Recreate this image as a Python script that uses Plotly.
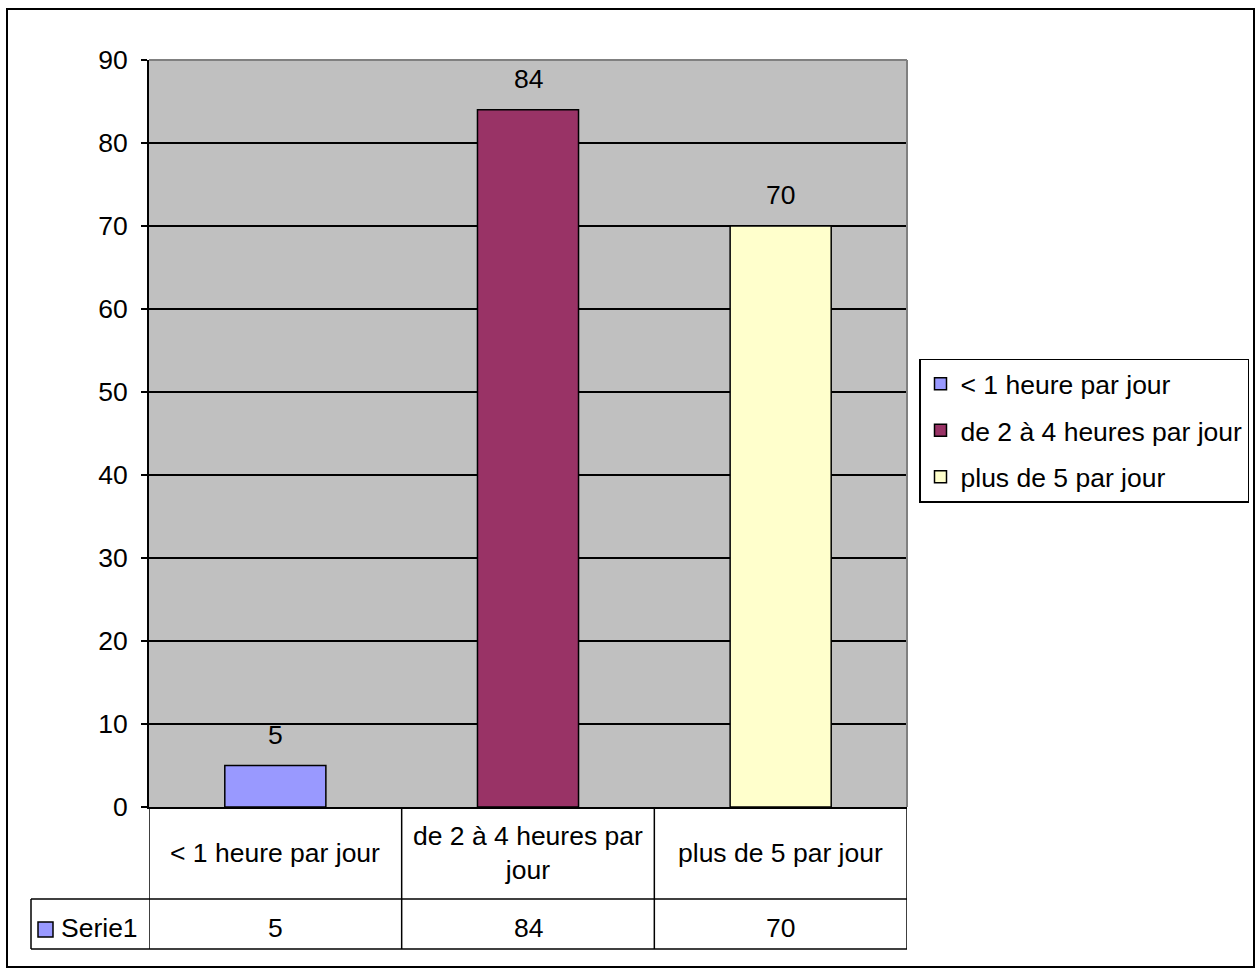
import plotly.graph_objects as go

categories = ["< 1 heure par jour", "de 2 à 4 heures par jour", "plus de 5 par jour"]
table_labels = ["< 1 heure par jour", "de 2 à 4 heures par<br>jour", "plus de 5 par jour"]
values = [5, 84, 70]
colors = ["#9999FF", "#993366", "#FFFFCC"]
series_name = "Serie1"
y_ticks = [0, 10, 20, 30, 40, 50, 60, 70, 80, 90]

FONT = "Liberation Sans, Arial, sans-serif"
FS = 26.5
W, H = 1258, 969
L, R, T, B = 149, 351, 60, 162
PW = W - L - R
PH = H - T - B


def px_x(p):
    return (p - L) / PW


def px_y(p):
    return (H - B - p) / PH


fig = go.Figure()
for i, (c, v, col) in enumerate(zip(categories, values, colors)):
    fig.add_trace(go.Bar(
        x=[i], y=[v], name=c, width=0.4,
        marker=dict(color=col, line=dict(color="black", width=1.5)),
        legendgroup=f"g{i}", hoverinfo="skip",
    ))

annotations = []
shapes = []
# value labels above bars
for i, v in enumerate(values):
    annotations.append(dict(x=i, y=v, xref="x", yref="y", text=str(v), showarrow=False,
                            yanchor="bottom", yshift=14, font=dict(size=FS, color="black", family=FONT)))

# data table
row1_top, row1_bot, row2_bot = 807, 899, 949
row2_mid = (row1_bot + row2_bot) / 2 + 4
for i, lab in enumerate(table_labels):
    annotations.append(dict(x=i, y=px_y((row1_top + row1_bot) / 2), xref="x", yref="paper", text=lab,
                            showarrow=False, yanchor="middle", xanchor="center",
                            font=dict(size=FS, color="black", family=FONT)))
    annotations.append(dict(x=i, y=px_y(row2_mid), xref="x", yref="paper", text=str(values[i]),
                            showarrow=False, yanchor="middle", xanchor="center",
                            font=dict(size=FS, color="black", family=FONT)))
annotations.append(dict(x=px_x(59), y=px_y(row2_mid), xref="paper", yref="paper", text=series_name,
                        showarrow=False, yanchor="middle", xanchor="left",
                        font=dict(size=FS, color="black", family=FONT)))

line = dict(color="black", width=1.5)
for xb in [-0.5, 0.5, 1.5, 2.5]:
    shapes.append(dict(type="line", xref="x", yref="paper", x0=xb, x1=xb,
                       y0=px_y(row1_top), y1=px_y(row2_bot), line=line))
for yy in [row1_bot, row2_bot]:
    shapes.append(dict(type="line", xref="paper", yref="paper", x0=px_x(31), x1=1,
                       y0=px_y(yy), y1=px_y(yy), line=line))
shapes.append(dict(type="line", xref="paper", yref="paper", x0=px_x(31), x1=px_x(31),
                   y0=px_y(row1_bot), y1=px_y(row2_bot), line=line))
# series swatch in table
shapes.append(dict(type="rect", xref="paper", yref="paper", x0=px_x(38), x1=px_x(53),
                   y0=px_y(937), y1=px_y(922), fillcolor=colors[0], line=dict(color="black", width=1.5)))
# plot area top/right grey border
shapes.append(dict(type="line", xref="paper", yref="paper", x0=0, x1=1, y0=1, y1=1,
                   line=dict(color="#808080", width=2)))
shapes.append(dict(type="line", xref="paper", yref="paper", x0=1, x1=1, y0=0, y1=1,
                   line=dict(color="#808080", width=2)))
# outer chart border
shapes.append(dict(type="rect", xref="paper", yref="paper", x0=px_x(7), x1=px_x(1254),
                   y0=px_y(967), y1=px_y(9), line=dict(color="black", width=2), layer="below"))

fig.update_layout(
    width=W, height=H,
    margin=dict(l=L, r=R, t=T, b=B, autoexpand=False),
    paper_bgcolor="white", plot_bgcolor="#C0C0C0",
    barmode="overlay",
    font=dict(family=FONT, size=FS, color="black"),
    showlegend=True,
    legend=dict(x=px_x(919), y=px_y(430.5), xanchor="left", yanchor="middle",
                bgcolor="white", bordercolor="black", borderwidth=1.5,
                font=dict(size=FS, family=FONT, color="black"),
                traceorder="grouped", tracegroupgap=9),
    annotations=annotations,
    shapes=shapes,
)
fig.update_xaxes(range=[-0.5, 2.5], showticklabels=False, showgrid=False, zeroline=False,
                 showline=True, linecolor="black", linewidth=2, ticks="", fixedrange=True)
fig.update_yaxes(range=[0, 90], tickvals=y_ticks, showgrid=True, gridcolor="black", gridwidth=1.5,
                 zeroline=False, showline=True, linecolor="black", linewidth=2,
                 ticks="outside", ticklen=6, tickcolor="black", tickwidth=2,
                 tickfont=dict(size=FS, family=FONT, color="black"), ticklabelstandoff=8)

fig.write_html("out.html", config={"displayModeBar": False},
               post_script="document.body.style.margin='0';")
